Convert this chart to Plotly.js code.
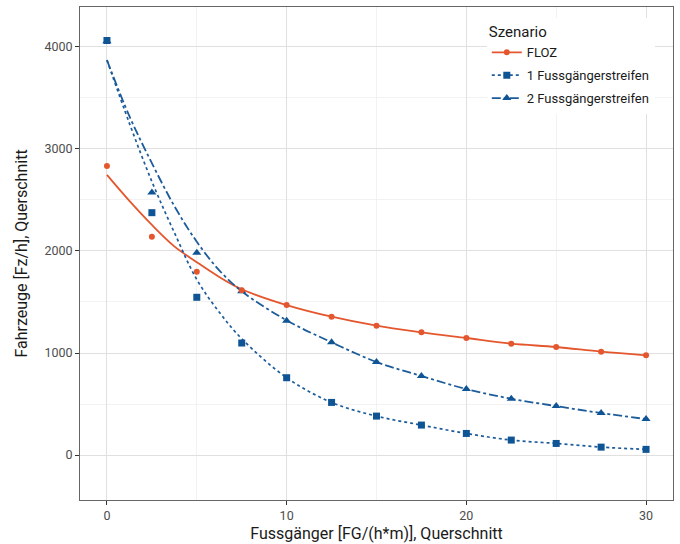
<!DOCTYPE html>
<html>
<head>
<meta charset="utf-8">
<script src="https://cdn.plot.ly/plotly-3.0.1.min.js"></script>
<style>html,body{margin:0;padding:0;background:#fff;}#chart{width:680px;height:544px;}</style>
</head>
<body>
<div id="chart"></div>
<script>
// Scenario names
var seriesNames = ["FLOZ", "1 Fussgängerstreifen", "2 Fussgängerstreifen"];

// Observed points (x = pedestrians, y = vehicles)
var pointX = [0, 2.5, 5, 7.5, 10, 12.5, 15, 17.5, 20, 22.5, 25, 27.5, 30];
var flozPoints = [2833, 2140, 1797, 1615, 1470, 1356, 1268, 1203, 1147, 1092, 1059, 1013, 977];
var fg1Points  = [4062, 2375, 1546, 1098, 758, 516, 382, 294, 212, 147, 114, 78, 56];
var fg2Points  = [4055, 2572, 1983, 1605, 1317, 1105, 912, 775, 647, 552, 480, 412, 353];

// Fitted curves
var fitX = [0, 1.25, 2.5, 3.75, 5, 6.25, 7.5, 10, 12.5, 15, 17.5, 20, 22.5, 25, 27.5, 30];
var flozFit = [2745, 2490, 2255, 2045, 1890, 1745, 1625, 1470, 1356, 1268, 1203, 1147, 1092, 1059, 1013, 977];
var fg1Fit  = [3870, 3250, 2680, 2180, 1720, 1400, 1140, 758, 516, 382, 294, 212, 147, 114, 78, 56];
var fg2Fit  = [3870, 3320, 2860, 2440, 2090, 1810, 1605, 1320, 1105, 912, 775, 647, 552, 480, 412, 353];

var xTicks = [0, 10, 20, 30];
var yTicks = [0, 1000, 2000, 3000, 4000];

var cOrange = "#e4572e";
var cBlue = "#1d5c9b";
var cBlueDark = "#0f5494";

var fits = [flozFit, fg1Fit, fg2Fit];
var pts = [flozPoints, fg1Points, fg2Points];
var dashes = ["solid", "dot", "dashdot"];
var lineColors = [cOrange, cBlue, cBlue];
var markColors = [cOrange, cBlueDark, cBlueDark];
var symbols = ["circle", "square", "triangle-up"];
var sizes = [6, 7, 8];
var widths = [1.8, 1.7, 1.8];

var traces = [];
for (var i = 0; i < 3; i++) {
  traces.push({
    x: fitX, y: fits[i], type: "scatter", mode: "lines",
    name: seriesNames[i], legend: "legend", legendgroup: "g" + i, legendrank: i + 1,
    line: {color: lineColors[i], width: widths[i], dash: dashes[i], shape: "spline", smoothing: 1.0},
    hoverinfo: "skip"
  });
}
// draw triangles first, then squares, then circles on top
var drawOrder = [2, 1, 0];
drawOrder.forEach(function (i) {
  traces.push({
    x: pointX, y: pts[i], type: "scatter", mode: "markers",
    name: seriesNames[i], legend: "legend2", legendgroup: "m" + i, legendrank: i + 1,
    marker: {color: markColors[i], symbol: symbols[i], size: sizes[i]},
    cliponaxis: false
  });
});

var font = "Roboto, 'Noto Sans', sans-serif";
var legendCommon = {
  x: 0.686, y: 0.978, xanchor: "left", yanchor: "top",
  xref: "paper", yref: "paper",
  borderwidth: 0, tracegroupgap: 3, traceorder: "grouped",
  itemwidth: 30
};
var layout = {
  width: 680, height: 544,
  margin: {l: 80, r: 7, t: 7, b: 44},
  paper_bgcolor: "#ffffff", plot_bgcolor: "#ffffff",
  font: {family: font, color: "#1a1a1a"},
  showlegend: true,
  legend: Object.assign({}, legendCommon, {
    bgcolor: "#ffffff",
    font: {family: font, size: 13, color: "#1a1a1a"},
    title: {text: "Szenario", side: "top", font: {family: font, size: 15, color: "#1a1a1a"}}
  }),
  legend2: Object.assign({}, legendCommon, {
    bgcolor: "rgba(0,0,0,0)",
    font: {family: font, size: 13, color: "rgba(0,0,0,0)"},
    title: {text: "Szenario", side: "top", font: {family: font, size: 15, color: "rgba(0,0,0,0)"}}
  }),
  xaxis: {
    range: [-1.5, 31.5], tickvals: xTicks, ticktext: xTicks.map(String),
    ticks: "outside", ticklen: 4, tickcolor: "#333333", tickwidth: 1,
    tickfont: {family: font, size: 12.5, color: "#4d4d4d"},
    showgrid: true, gridcolor: "#e0e0e0", gridwidth: 1,
    minor: {tickvals: [5, 15, 25], showgrid: true, gridcolor: "#ededed", gridwidth: 0.7, ticks: ""},
    zeroline: false, showline: true, mirror: true, linecolor: "#666666", linewidth: 1,
    title: {text: "Fussgänger [FG/(h*m)], Querschnitt", font: {family: font, size: 16, color: "#1a1a1a"}, standoff: 5}
  },
  yaxis: {
    range: [-440, 4390], tickvals: yTicks, ticktext: yTicks.map(String),
    ticks: "outside", ticklen: 4, tickcolor: "#333333", tickwidth: 1,
    tickfont: {family: font, size: 12.5, color: "#4d4d4d"},
    showgrid: true, gridcolor: "#e0e0e0", gridwidth: 1,
    minor: {tickvals: [500, 1500, 2500, 3500], showgrid: true, gridcolor: "#ededed", gridwidth: 0.7, ticks: ""},
    zeroline: false, showline: true, mirror: true, linecolor: "#666666", linewidth: 1,
    title: {text: "Fahrzeuge [Fz/h], Querschnitt", font: {family: font, size: 16, color: "#1a1a1a"}, standoff: 12}
  }
};

Plotly.newPlot("chart", traces, layout, {displayModeBar: false, staticPlot: true});
</script>
</body>
</html>
